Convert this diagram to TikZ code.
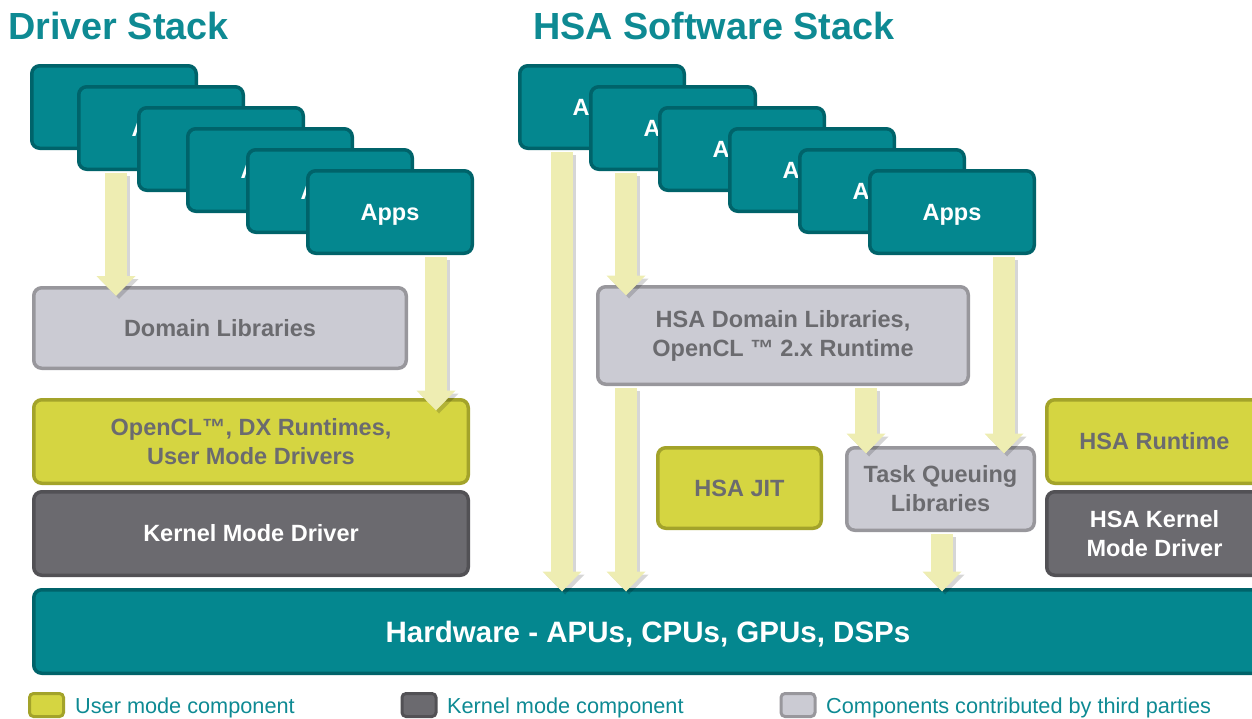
\documentclass[tikz,border=0pt]{standalone}
\usepackage{fontspec}
\setmainfont{Liberation Sans}
\usetikzlibrary{arrows.meta,calc}
\definecolor{teal1}{HTML}{04878F}
\definecolor{teal2}{HTML}{00636A}
\definecolor{titlec}{HTML}{0E8A93}
\definecolor{grayf}{HTML}{CBCBD3}
\definecolor{grayd}{HTML}{98979C}
\definecolor{yelf}{HTML}{D5D541}
\definecolor{yeld}{HTML}{A3A32A}
\definecolor{darkf}{HTML}{6B6A6F}
\definecolor{darkd}{HTML}{525155}
\definecolor{txtg}{HTML}{6B6B6F}
\definecolor{arrowc}{HTML}{EEEDB2}
\begin{document}
\begin{tikzpicture}[x=1pt,y=-1pt,
  box/.style={rounded corners=8pt, line width=3.5pt, inner sep=0pt, align=center,
    font=\bfseries\fontsize{23.5}{29}\selectfont},
  appbox/.style={box, fill=teal1, draw=teal2, text=white, minimum width=164.5pt,
    minimum height=82.5pt, text depth=0pt},
  thirdbox/.style={box, fill=grayf, draw=grayd, text=txtg},
  userbox/.style={box, fill=yelf, draw=yeld, text=txtg},
  kernbox/.style={box, fill=darkf, draw=darkd, text=white},
  hwbox/.style={box, fill=teal1, draw=teal2, text=white, text depth=0pt,
    font=\bfseries\fontsize{29.5}{34}\selectfont},
  flowshadow/.style={line width=22pt, draw=black, opacity=0.16,
    -{Triangle[width=39pt,length=20pt,line width=0pt]},
    transform canvas={xshift=3pt,yshift=-3pt}},
  flow/.style={line width=22pt, draw=arrowc,
    -{Triangle[width=39pt,length=20pt,line width=0pt]}},
  titletext/.style={anchor=base west, inner sep=0pt, text=titlec,
    font=\bfseries\fontsize{37.8}{44}\selectfont},
  legtext/.style={anchor=base west, inner sep=0pt, text=titlec,
    font=\fontsize{21.7}{26}\selectfont},
  legsq/.style={rounded corners=4pt, line width=3pt, minimum width=34pt,
    minimum height=23pt, inner sep=0pt}
  ]
\useasboundingbox (0,0) rectangle (1252,718);
\clip (0,0) rectangle (1252,718);

% titles
\node[titletext] (t1) at (8,39) {Driver Stack};
\node[titletext] (t2) at (533,39) {HSA Software Stack};

% left apps stack
\node[appbox] (L1) at (114,107) {Apps};
\node[appbox] (L2) at (161,128) {Apps};
\node[appbox] (L3) at (221,149) {Apps};
\node[appbox] (L4) at (270,170) {Apps};
\node[appbox] (L5) at (330,191) {Apps};
\node[appbox] (L6) at (390,212) {Apps};

% right apps stack
\node[appbox] (R1) at (602,107) {Apps};
\node[appbox] (R2) at (673,128) {Apps};
\node[appbox] (R3) at (742,149) {Apps};
\node[appbox] (R4) at (812,170) {Apps};
\node[appbox] (R5) at (882,191) {Apps};
\node[appbox] (R6) at (952,212) {Apps};

% left stack layers
\node[thirdbox, minimum width=372.5pt, minimum height=80.5pt] (Dom) at (220,328) {Domain Libraries};
\node[userbox, minimum width=434.5pt, minimum height=83.5pt] (OCL) at (251,441.5) {OpenCL™, DX Runtimes,\\User Mode Drivers};
\node[kernbox, minimum width=434.5pt, minimum height=83.5pt] (KMD) at (251,533.5) {Kernel Mode Driver};

% hardware
\node[hwbox, minimum width=1228.5pt, minimum height=83.5pt] (HW) at (648,631.5) {Hardware - APUs, CPUs, GPUs, DSPs};

% right stack layers
\node[thirdbox, minimum width=370.5pt, minimum height=97.5pt] (HDom) at (783,335.5) {HSA Domain Libraries,\\OpenCL ™ 2.x Runtime};
\node[userbox, minimum width=163.5pt, minimum height=80.5pt] (JIT) at (739.5,488) {HSA JIT};
\node[thirdbox, minimum width=187.5pt, minimum height=82.5pt] (TQ) at (940.5,489) {Task Queuing\\Libraries};
\node[userbox, minimum width=215.5pt, minimum height=83.5pt] (HRT) at (1154.5,441.5) {HSA Runtime};
\node[kernbox, minimum width=215.5pt, minimum height=83.5pt] (HKMD) at (1154.5,533.5) {HSA Kernel\\Mode Driver};

% arrow columns
\coordinate (xa) at (116,0);
\coordinate (xb) at (436,0);
\coordinate (xc) at (562,0);
\coordinate (xd) at (626,0);
\coordinate (xe) at (866,0);
\coordinate (xf) at (1004,0);
\coordinate (xg) at (942,0);

% shadows
\draw[flowshadow] ($(L2.south -| xa)+(0,2)$) -- ($(Dom.north -| xa)+(0,10)$);
\draw[flowshadow] ($(L6.south -| xb)+(0,2)$) -- ($(OCL.north -| xb)+(0,12.5)$);
\draw[flowshadow] ($(R1.south -| xc)+(0,2)$) -- ($(HW.north -| xc)+(0,3.5)$);
\draw[flowshadow] ($(R2.south -| xd)+(0,2)$) -- ($(HDom.north -| xd)+(0,10.5)$);
\draw[flowshadow] ($(HDom.south -| xd)+(0,2)$) -- ($(HW.north -| xd)+(0,3.5)$);
\draw[flowshadow] ($(HDom.south -| xe)+(0,2)$) -- ($(TQ.north -| xe)+(0,7.5)$);
\draw[flowshadow] ($(R6.south -| xf)+(0,2)$) -- ($(TQ.north -| xf)+(0,7.5)$);
\draw[flowshadow] ($(TQ.south -| xg)+(0,2)$) -- ($(HW.north -| xg)+(0,3.5)$);

% arrows
\draw[flow] ($(L2.south -| xa)+(0,2)$) -- ($(Dom.north -| xa)+(0,10)$);
\draw[flow] ($(L6.south -| xb)+(0,2)$) -- ($(OCL.north -| xb)+(0,12.5)$);
\draw[flow] ($(R1.south -| xc)+(0,2)$) -- ($(HW.north -| xc)+(0,3.5)$);
\draw[flow] ($(R2.south -| xd)+(0,2)$) -- ($(HDom.north -| xd)+(0,10.5)$);
\draw[flow] ($(HDom.south -| xd)+(0,2)$) -- ($(HW.north -| xd)+(0,3.5)$);
\draw[flow] ($(HDom.south -| xe)+(0,2)$) -- ($(TQ.north -| xe)+(0,7.5)$);
\draw[flow] ($(R6.south -| xf)+(0,2)$) -- ($(TQ.north -| xf)+(0,7.5)$);
\draw[flow] ($(TQ.south -| xg)+(0,2)$) -- ($(HW.north -| xg)+(0,3.5)$);

% legend
\node[legsq, fill=yelf, draw=yeld] (s1) at (46.5,705) {};
\node[legtext] (l1) at (75,713) {User mode component};
\node[legsq, fill=darkf, draw=darkd] (s2) at (419,705) {};
\node[legtext] (l2) at (447,713) {Kernel mode component};
\node[legsq, fill=grayf, draw=grayd] (s3) at (798,705) {};
\node[legtext] (l3) at (826,713) {Components contributed by third parties};
\end{tikzpicture}
\end{document}
